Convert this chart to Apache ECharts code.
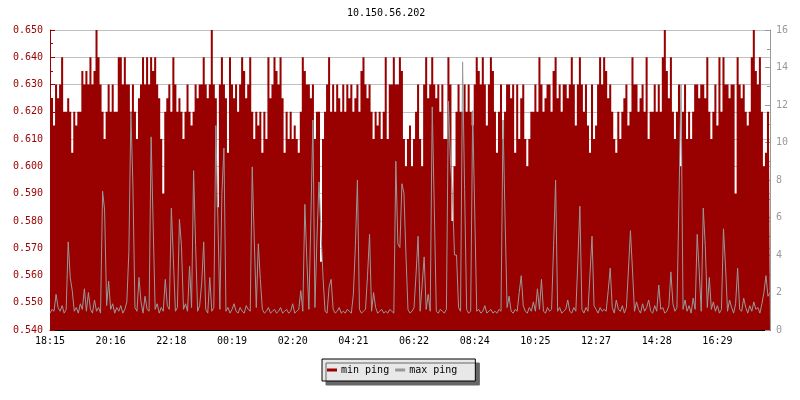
<!DOCTYPE html>
<html>
<head>
<meta charset="utf-8">
<script src="https://cdn.jsdelivr.net/npm/echarts@6/dist/echarts.min.js"></script>
<style>
html,body{margin:0;padding:0;background:#fff;}
#chart{width:800px;height:400px;}
</style>
</head>
<body>
<div id="chart"></div>
<script>
var titleText = '10.150.56.202';
var timeTicks = ['18:15','20:16','22:18','00:19','02:20','04:21','06:22','08:24','10:25','12:27','14:28','16:29'];
var seriesNames = ['min ping', 'max ping'];

// min ping (ms), left axis
var minPing = [
0.62,0.625,0.615,0.63,0.625, 0.63,0.64,0.62,0.62,0.625, 0.62,0.605,0.62,0.615,0.62, 0.62,0.635,0.63,0.635,0.63,
0.64,0.63,0.635,0.65,0.64, 0.63,0.62,0.61,0.62,0.63, 0.62,0.63,0.62,0.62,0.64, 0.64,0.63,0.64,0.63,0.63,
0.62,0.63,0.62,0.61,0.625, 0.63,0.64,0.63,0.64,0.63, 0.64,0.635,0.64,0.63,0.625, 0.61,0.59,0.62,0.625,0.63,
0.62,0.64,0.63,0.62,0.625, 0.62,0.61,0.62,0.63,0.62, 0.615,0.62,0.63,0.625,0.63, 0.63,0.64,0.63,0.625,0.63,
0.65,0.63,0.625,0.585,0.63, 0.64,0.63,0.625,0.605,0.64, 0.63,0.625,0.63,0.62,0.63, 0.64,0.635,0.625,0.63,0.64,
0.62,0.61,0.62,0.615,0.62, 0.605,0.62,0.61,0.64,0.625, 0.63,0.64,0.635,0.63,0.64, 0.625,0.605,0.62,0.61,0.62,
0.61,0.615,0.61,0.605,0.62, 0.64,0.635,0.63,0.63,0.625, 0.63,0.61,0.62,0.62,0.565, 0.61,0.62,0.63,0.64,0.62,
0.63,0.62,0.63,0.625,0.62, 0.63,0.62,0.63,0.625,0.63, 0.62,0.625,0.63,0.62,0.635, 0.64,0.63,0.625,0.63,0.62,
0.61,0.62,0.615,0.62,0.61, 0.62,0.64,0.61,0.63,0.63, 0.64,0.63,0.63,0.64,0.635, 0.61,0.60,0.61,0.615,0.60,
0.61,0.62,0.63,0.61,0.60, 0.63,0.64,0.625,0.63,0.64, 0.63,0.625,0.63,0.62,0.63, 0.61,0.61,0.64,0.63,0.58,
0.60,0.62,0.63,0.62,0.62, 0.63,0.62,0.63,0.62,0.615, 0.63,0.64,0.635,0.63,0.64, 0.63,0.615,0.63,0.64,0.635,
0.62,0.605,0.62,0.63,0.61, 0.62,0.63,0.63,0.625,0.63, 0.605,0.63,0.61,0.625,0.63, 0.61,0.60,0.61,0.62,0.62,
0.63,0.62,0.64,0.63,0.62, 0.625,0.63,0.63,0.62,0.635, 0.64,0.625,0.63,0.62,0.63, 0.63,0.625,0.63,0.64,0.63,
0.615,0.63,0.64,0.63,0.62, 0.63,0.615,0.605,0.63,0.61, 0.615,0.63,0.64,0.63,0.64, 0.635,0.625,0.63,0.62,0.61,
0.605,0.62,0.61,0.62,0.625, 0.63,0.615,0.62,0.64,0.63, 0.63,0.62,0.625,0.63,0.62, 0.64,0.61,0.62,0.62,0.63,
0.62,0.63,0.62,0.64,0.65, 0.635,0.625,0.64,0.62,0.61, 0.62,0.63,0.60,0.62,0.63, 0.61,0.62,0.61,0.62,0.63,
0.63,0.625,0.63,0.63,0.625, 0.64,0.62,0.61,0.62,0.63, 0.615,0.64,0.62,0.64,0.63, 0.63,0.625,0.63,0.63,0.59,
0.64,0.63,0.625,0.63,0.62, 0.615,0.62,0.64,0.65,0.635, 0.63,0.64,0.62,0.60,0.605, 0.62,0.61
];

// max ping (ms), right axis
var maxPing = [
0.9,1.1,1.0,1.9,1.2, 1.0,1.3,0.9,1.1,4.7, 2.8,2.1,1.0,1.2,0.9, 1.4,1.1,2.2,1.0,2.0,
1.1,0.9,1.6,1.0,1.2, 0.9,7.4,6.4,1.3,2.6, 1.1,1.4,0.9,1.2,1.0, 1.3,0.9,1.1,1.5,4.2,
11.6,7.7,1.2,1.0,2.8, 1.5,0.9,1.8,1.1,1.0, 10.3,5.6,1.1,1.4,0.9, 1.2,1.0,2.7,1.3,1.1,
6.5,3.8,1.0,1.2,5.9, 4.5,1.1,1.4,1.0,3.4, 1.2,8.5,4.5,1.0,1.3, 2.5,4.7,1.1,0.9,2.8,
1.0,1.2,10.9,5.9,1.1, 7.3,9.7,1.0,1.2,0.9, 1.1,1.4,1.0,0.9,1.2, 1.0,0.9,1.3,1.1,1.0,
8.7,4.8,1.2,4.6,2.7, 1.1,0.9,1.0,1.2,0.9, 1.0,1.1,0.9,1.0,1.2, 0.9,1.0,1.1,0.9,1.0,
1.4,0.9,1.0,1.1,2.1, 1.0,6.7,3.7,1.1,6.0, 11.2,1.2,4.9,7.9,5.2, 2.8,1.0,0.9,2.3,2.7,
1.1,0.9,1.0,1.2,0.9, 1.0,0.9,1.1,1.0,0.9, 1.9,4.5,8.0,1.1,0.9, 1.0,1.1,2.9,5.1,1.0,
2.0,1.2,0.9,1.0,1.1, 0.9,1.0,0.9,1.1,1.0, 0.9,9.0,4.6,4.4,7.8, 7.3,4.0,1.1,0.9,1.0,
1.2,3.0,5.0,1.0,2.4, 3.9,1.1,1.9,1.0,11.9, 6.6,1.0,0.9,1.1,1.0, 0.9,1.1,12.2,9.0,7.2,
4.0,4.0,1.2,1.0,14.3, 7.5,1.1,0.9,1.0,11.7, 6.3,1.0,1.1,0.9,1.0, 1.3,0.9,1.0,1.1,0.9,
1.0,0.9,1.1,1.0,11.2, 6.0,1.2,1.8,1.0,0.9, 1.1,1.0,2.0,2.9,1.3, 1.0,0.9,1.2,1.0,1.5,
1.0,2.2,1.1,2.7,1.0, 0.9,1.2,1.0,1.1,4.5, 8.0,1.0,1.2,0.9,1.0, 1.1,1.6,1.0,0.9,1.2,
1.0,3.7,6.6,1.1,0.9, 1.2,1.0,3.0,5.0,1.3, 1.1,0.9,1.2,1.0,1.1, 1.0,2.1,3.3,1.2,0.9,
1.6,1.1,1.0,1.3,0.9, 1.2,3.2,5.3,3.2,1.0, 1.5,1.1,0.9,1.4,1.0, 1.2,1.6,1.0,0.9,1.3,
1.0,2.4,1.1,1.2,0.9, 1.0,1.3,3.1,1.4,1.0, 1.2,7.0,13.1,1.1,1.6, 1.0,1.3,0.9,1.7,1.1,
5.1,3.1,1.0,6.5,4.5, 1.2,2.8,1.1,1.5,1.0, 1.3,0.9,1.1,5.4,3.4, 1.0,1.6,1.2,0.9,1.4,
3.3,1.1,1.0,1.7,1.2, 0.9,1.3,1.0,1.5,1.1, 1.2,0.9,1.4,2.0,2.9, 1.8,2.0
];

var labelStep = 30;
var lastIndex = minPing.length - 1;
var minData = minPing.map(function (v, i) { return [i, v]; });
var maxData = maxPing.map(function (v, i) { return [i, v]; });

var FONT = 'DejaVu Sans Mono';
var RED = '#990000';
var GREY = '#999999';

var chart = echarts.init(document.getElementById('chart'), null, {renderer: 'canvas'});
chart.setOption({
  animation: false,
  backgroundColor: '#ffffff',
  title: {
    text: titleText,
    left: 342,
    top: 3,
    textStyle: {fontFamily: FONT, fontSize: 10, fontWeight: 'normal', color: '#000'}
  },
  grid: {left: 50, right: 30, top: 30, bottom: 70, containLabel: false},
  legend: {
    left: 322,
    top: 359,
    padding: [6, 18, 6, 5],
    itemGap: 6,
    itemWidth: 10,
    itemHeight: 3,
    backgroundColor: '#e8e8e8',
    borderColor: '#000',
    borderWidth: 1,
    borderRadius: 0,
    shadowColor: '#666666',
    shadowBlur: 0,
    shadowOffsetX: 4,
    shadowOffsetY: 4,
    textStyle: {fontFamily: FONT, fontSize: 10, color: '#000', padding: [0, 0, 0, -1]},
    data: [
      {name: seriesNames[0], icon: 'rect', itemStyle: {color: RED}},
      {name: seriesNames[1], icon: 'rect', itemStyle: {color: GREY}}
    ]
  },
  xAxis: {
    type: 'value',
    min: 0,
    max: lastIndex,
    interval: labelStep,
    axisLine: {lineStyle: {color: '#000', width: 1}},
    axisTick: {inside: true, length: 5, lineStyle: {color: '#000'}},
    splitLine: {show: false},
    axisLabel: {
      showMaxLabel: false,
      margin: 6,
      fontFamily: FONT, fontSize: 10, color: '#000',
      formatter: function (v) {
        var k = Math.round(v / labelStep);
        return (v % labelStep === 0 && timeTicks[k]) ? timeTicks[k] : '';
      }
    }
  },
  yAxis: [
    {
      type: 'value',
      min: 0.54,
      max: 0.65,
      interval: 0.01,
      axisLine: {show: true, lineStyle: {color: RED}},
      axisTick: {show: true, inside: true, length: 5, lineStyle: {color: RED}},
      minorTick: {show: true, splitNumber: 2, length: 3, lineStyle: {color: RED}},
      splitLine: {show: true, lineStyle: {color: '#c0c0c0', width: 1}},
      axisLabel: {
        margin: 7, fontFamily: FONT, fontSize: 10, color: RED,
        formatter: function (v) { return v.toFixed(3); }
      }
    },
    {
      type: 'value',
      min: 0,
      max: 16,
      interval: 2,
      position: 'right',
      axisLine: {show: true, lineStyle: {color: GREY}},
      axisTick: {show: true, inside: true, length: 5, lineStyle: {color: GREY}},
      minorTick: {show: true, splitNumber: 2, length: 3, lineStyle: {color: GREY}},
      splitLine: {show: false},
      axisLabel: {margin: 6, fontFamily: FONT, fontSize: 10, color: GREY}
    }
  ],
  series: [
    {
      name: seriesNames[0],
      type: 'line',
      yAxisIndex: 0,
      step: 'middle',
      showSymbol: false,
      symbol: 'none',
      data: minData,
      lineStyle: {color: RED, width: 0},
      itemStyle: {color: RED},
      areaStyle: {color: RED, opacity: 1, origin: 'start'},
      z: 2
    },
    {
      name: seriesNames[1],
      type: 'line',
      yAxisIndex: 1,
      showSymbol: false,
      symbol: 'none',
      data: maxData,
      lineStyle: {color: GREY, width: 1},
      itemStyle: {color: GREY},
      z: 3
    }
  ]
});
</script>
</body>
</html>
